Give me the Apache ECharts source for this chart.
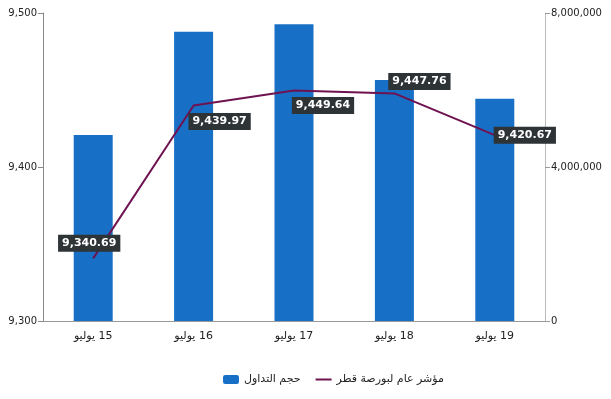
<!DOCTYPE html>
<html>
<head>
<meta charset="utf-8">
<script src="https://cdn.jsdelivr.net/npm/echarts@6/dist/echarts.min.js"></script>
<style>
  html, body { margin: 0; padding: 0; background: #fff; }
  #chart { width: 611px; height: 399px; }
</style>
</head>
<body>
<div id="chart"></div>
<script>
// data
const days = ['يوليو 15', 'يوليو 16', 'يوليو 17', 'يوليو 18', 'يوليو 19'];
const volume = [4830000, 7510000, 7710000, 6260000, 5770000];
const indexValues = [9340.69, 9439.97, 9449.64, 9447.76, 9420.67];
const volumeName = 'حجم التداول';
const indexName = 'مؤشر عام لبورصة قطر';

// label offsets for the index labels (x, y)
const labelOffsets = [[-4, -15], [26, 16], [29, 15], [25, -12], [30, 0]];

const fmt = v => v.toLocaleString('en-US');

const chart = echarts.init(document.getElementById('chart'));
chart.setOption({
    animation: false,
    textStyle: { fontFamily: 'DejaVu Sans' },
    grid: { left: 43, right: 66, top: 13, bottom: 78 },
    legend: {
        bottom: 9,
        left: 218,
        itemWidth: 16,
        itemHeight: 9,
        itemGap: 14,
        textStyle: { fontSize: 11, color: '#222', fontFamily: 'DejaVu Sans' },
        data: [volumeName, indexName]
    },
    xAxis: {
        type: 'category',
        data: days,
        axisLine: { lineStyle: { color: '#999' } },
        axisTick: { length: 5, lineStyle: { color: '#999' } },
        axisLabel: {
            color: '#222', fontSize: 11, margin: 10,
            // LRM before the number keeps it on the right of the word
            formatter: v => v.replace(' ', '\u200E ')
        }
    },
    yAxis: [
        {
            type: 'value',
            min: 9300, max: 9500, interval: 100,
            position: 'left',
            splitLine: { show: false },
            axisLine: { show: true, lineStyle: { color: '#888' } },
            axisTick: { show: true, length: 5, lineStyle: { color: '#888' } },
            axisLabel: { color: '#222', fontSize: 10, formatter: fmt, margin: 6 }
        },
        {
            type: 'value',
            min: 0, max: 8000000, interval: 4000000,
            position: 'right',
            splitLine: { show: false },
            axisLine: { show: true, lineStyle: { color: '#bbb' } },
            axisTick: { show: true, length: 5, lineStyle: { color: '#999' } },
            axisLabel: { color: '#222', fontSize: 10, formatter: fmt, margin: 6 }
        }
    ],
    series: [
        {
            name: volumeName,
            type: 'bar',
            yAxisIndex: 1,
            barWidth: 39,
            itemStyle: { color: '#1870c6' },
            data: volume
        },
        {
            name: indexName,
            type: 'line',
            yAxisIndex: 0,
            symbol: 'circle',
            symbolSize: 1,
            showSymbol: true,
            lineStyle: { color: '#6e1250', width: 2 },
            itemStyle: { color: 'rgba(0,0,0,0)' },
            data: indexValues.map((v, i) => ({
                value: v,
                label: { offset: labelOffsets[i] }
            })),
            label: {
                show: true,
                position: 'inside',
                formatter: p => echarts.format.addCommas(p.value.toFixed(2)),
                backgroundColor: '#2e3336',
                color: '#fff',
                fontWeight: 'bold',
                fontSize: 11,
                padding: [3, 4, 3, 4]
            },
            z: 5
        }
    ]
});
</script>
</body>
</html>
